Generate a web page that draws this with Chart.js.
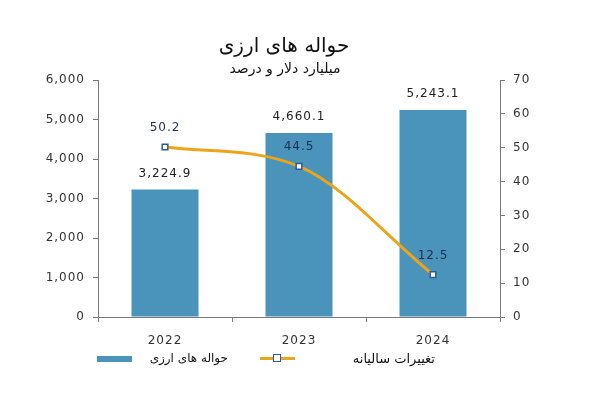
<!DOCTYPE html>
<html>
<head>
<meta charset="utf-8">
<script src="https://cdn.jsdelivr.net/npm/chart.js@4/dist/chart.umd.min.js"></script>
<style>
  html, body { margin: 0; padding: 0; background: #fff; }
  #wrap { position: relative; width: 601px; height: 395px; font-family: "DejaVu Sans", sans-serif; color: #111; }
  #c { position: absolute; left: 0; top: 0; }
  .t { position: absolute; white-space: nowrap; transform: translate(-50%, -50%); direction: rtl; }
  #title { left: 284px; top: 45px; font-size: 20px; }
  #sub { left: 285px; top: 68px; font-size: 14px; }
  .lg { position: absolute; }
  .lbl { position: absolute; font-size: 12px; direction: rtl; white-space: nowrap; transform: translateY(-50%); }
</style>
</head>
<body>
<div id="wrap">
  <canvas id="c" width="601" height="395"></canvas>
  <div class="t" id="title">حواله های ارزی</div>
  <div class="t" id="sub">میلیارد دلار و درصد</div>

  <div class="lg" style="left:97px; top:356px; width:35px; height:6px; background:#4a93ba;"></div>
  <div class="lbl" style="right:373px; top:358px;">حواله های ارزی</div>

  <div class="lg" style="left:260px; top:357px; width:35px; height:3px; background:#eaa51a;"></div>
  <div class="lg" style="left:273px; top:354px; width:6px; height:6px; background:#fff; border:1.5px solid #2d5a9e;"></div>
  <div class="lbl" style="right:166px; top:358px; font-size:13px;">تغییرات سالیانه</div>
</div>
<script>
// داده‌ها
const years = ['2022', '2023', '2024'];
const remittances = [3224.9, 4660.1, 5243.1];
const annualChange = [50.2, 44.5, 12.5];
const leftTicks = [0, 1000, 2000, 3000, 4000, 5000, 6000];
const rightTicks = [0, 10, 20, 30, 40, 50, 60, 70];

const AXIS = '#7a7a7a';
const TXT = '#333';

// برچسب مقادیر روی ستون‌ها و نقاط
const valueLabels = {
    id: 'valueLabels',
    beforeUpdate(chart) { chart.ctx.letterSpacing = '1px'; },
    beforeDraw(chart) { chart.ctx.letterSpacing = '1px'; },
    afterDatasetsDraw(chart) {
        const ctx = chart.ctx;
        ctx.save();
        ctx.letterSpacing = '1px';
        ctx.font = '12px "DejaVu Sans"';
        ctx.textAlign = 'center';
        ctx.textBaseline = 'middle';
        chart.data.datasets.forEach((ds, i) => {
            const meta = chart.getDatasetMeta(i);
            meta.data.forEach((el, j) => {
                const v = ds.data[j];
                if (ds.type === 'bar') {
                    ctx.fillStyle = '#222';
                    ctx.fillText(v.toLocaleString('en-US', { minimumFractionDigits: 1 }), el.x, el.y - 16);
                } else {
                    ctx.fillStyle = '#1f2f4f';
                    ctx.fillText(v.toFixed(1), el.x, el.y - 19);
                }
            });
        });
        ctx.restore();
    }
};

new Chart(document.getElementById('c').getContext('2d'), {
    data: {
        labels: years,
        datasets: [
            {
                type: 'line',
                label: 'تغییرات سالیانه',
                data: annualChange,
                yAxisID: 'y1',
                order: 0,
                borderColor: '#eaa51a',
                borderWidth: 3,
                cubicInterpolationMode: 'monotone',
                pointStyle: 'rect',
                pointRadius: 4,
                pointBackgroundColor: '#fff',
                pointBorderColor: '#2d5a9e',
                pointBorderWidth: 1.5,
                fill: false
            },
            {
                type: 'bar',
                label: 'حواله های ارزی',
                data: remittances,
                yAxisID: 'y',
                order: 1,
                backgroundColor: '#4a93ba',
                barPercentage: 0.5,
                categoryPercentage: 1
            }
        ]
    },
    options: {
        responsive: false,
        animation: false,
        layout: { padding: { top: 80, bottom: 48, left: 0, right: 0 } },
        plugins: { legend: { display: false }, tooltip: { enabled: false } },
        scales: {
            x: {
                offset: true,
                grid: { offset: true, drawOnChartArea: false, drawTicks: true, tickLength: 5, color: AXIS },
                border: { color: AXIS },
                ticks: { color: TXT, font: { family: 'DejaVu Sans', size: 12 }, padding: 12 },
                afterFit(s) { s.height = 30; }
            },
            y: {
                position: 'left',
                min: 0, max: 6000,
                afterBuildTicks(s) { s.ticks = leftTicks.map(v => ({ value: v })); },
                grid: { drawOnChartArea: false, tickLength: 5, color: AXIS },
                border: { color: AXIS },
                ticks: { color: TXT, font: { family: 'DejaVu Sans', size: 12 }, padding: 8,
                         callback: v => v.toLocaleString('en-US') },
                afterFit(s) { s.width = 98; }
            },
            y1: {
                position: 'right',
                min: 0, max: 70,
                afterBuildTicks(s) { s.ticks = rightTicks.map(v => ({ value: v })); },
                grid: { drawOnChartArea: false, tickLength: 5, color: AXIS },
                border: { color: AXIS },
                ticks: { color: TXT, font: { family: 'DejaVu Sans', size: 12 }, padding: 8 },
                afterFit(s) { s.width = 101; }
            }
        }
    },
    plugins: [valueLabels]
});
</script>
</body>
</html>
